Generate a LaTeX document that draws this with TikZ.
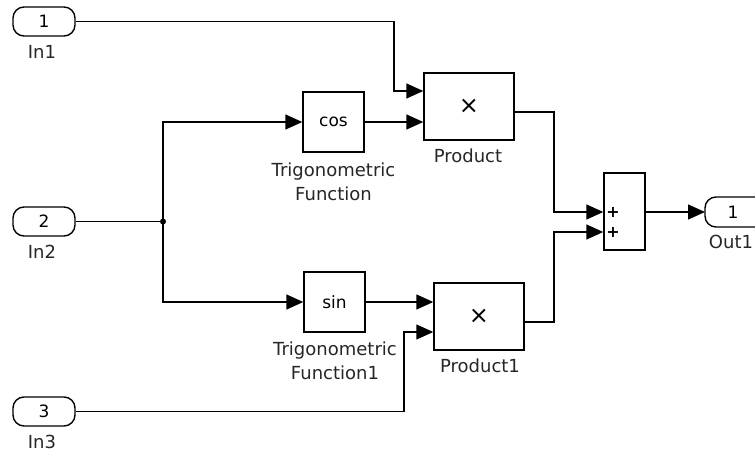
\documentclass[tikz,border=0pt]{standalone}
\usepackage{fontspec}
\setmainfont{DejaVu Sans}
\usetikzlibrary{arrows.meta}
\begin{document}
\begin{tikzpicture}[x=1pt,y=-1pt,
  wire/.style={line width=1.4pt, draw=black},
  sig/.style={wire, -{Triangle[length=17pt,width=15pt]}},
  blk/.style={draw, line width=1.4pt, inner sep=0pt, font=\fontsize{17}{20}\selectfont},
  port/.style={draw, line width=1.4pt, rounded corners=11pt, minimum width=62pt, minimum height=29pt, inner sep=0pt, font=\fontsize{17}{20}\selectfont},
  lbl/.style={font=\fontsize{18}{24}\selectfont, align=center, inner sep=0pt, text=black!85},
  sgn/.style={font=\fontsize{16}{16}\selectfont\bfseries, inner sep=0pt}
]
\useasboundingbox (0,0) rectangle (755,452);

% inports
\node[port] (in1) at (44,21.5) {1};
\node[lbl] (in1l) at (42,52) {In1};
\node[port] (in2) at (44,221.5) {2};
\node[lbl] (in2l) at (42,252) {In2};
\node[port] (in3) at (44,411.5) {3};
\node[lbl] (in3l) at (42,442) {In3};

% blocks
\node[blk, minimum width=61pt, minimum height=60pt] (cos) at (333.5,122) {cos};
\node[lbl] (cosl) at (333.5,182) {Trigonometric\\Function};
\node[blk, minimum width=61pt, minimum height=60pt] (sin) at (334.5,302) {sin};
\node[lbl] (sinl) at (335,361) {Trigonometric\\Function1};

\node[blk, minimum width=90pt, minimum height=67pt, font=\fontsize{24}{24}\selectfont] (prod) at (469,106.5) {×};
\node[lbl] (prodl) at (468,156) {Product};
\node[blk, minimum width=90pt, minimum height=67pt, font=\fontsize{24}{24}\selectfont] (prod1) at (479,316.5) {×};
\node[lbl] (prod1l) at (480,366) {Product1};

\node[blk, minimum width=41pt, minimum height=77pt] (sum) at (624.5,211.5) {};
\node[sgn] (plus1) at (613,212) {+};
\node[sgn] (plus2) at (613,232) {+};

% outport
\draw[wire, rounded corners=11pt] (756,197) -- (705,197) -- (705,227) -- (756,227);
\coordinate (out1in) at (705,212);
\node[font=\fontsize{17}{20}\selectfont, inner sep=0pt] (out1) at (733,212) {1};
\node[lbl] (out1l) at (731,242) {Out1};

% junction
\coordinate (j) at (163,221.5);
\fill (j) circle (3pt);

% connectors
\draw[sig] (in1.east) -| (394,91) -- (prod.west |- 0,91);
\draw[sig] (cos.east) -- (prod.west |- cos.east);
\draw[wire] (in2.east) -- (j);
\draw[sig] (j) |- (cos.west);
\draw[sig] (j) |- (sin.west);
\draw[sig] (sin.east) -- (prod1.west |- sin.east);
\draw[sig] (in3.east) -| (404,332) -- (prod1.west |- 0,332);
\draw[sig] (prod.east |- 0,112) -| (554,212) -- (sum.west |- 0,212);
\draw[sig] (prod1.east |- 0,322) -| (554,232) -- (sum.west |- 0,232);
\draw[sig] (sum.east |- 0,212) -- (out1in);
\end{tikzpicture}
\end{document}
